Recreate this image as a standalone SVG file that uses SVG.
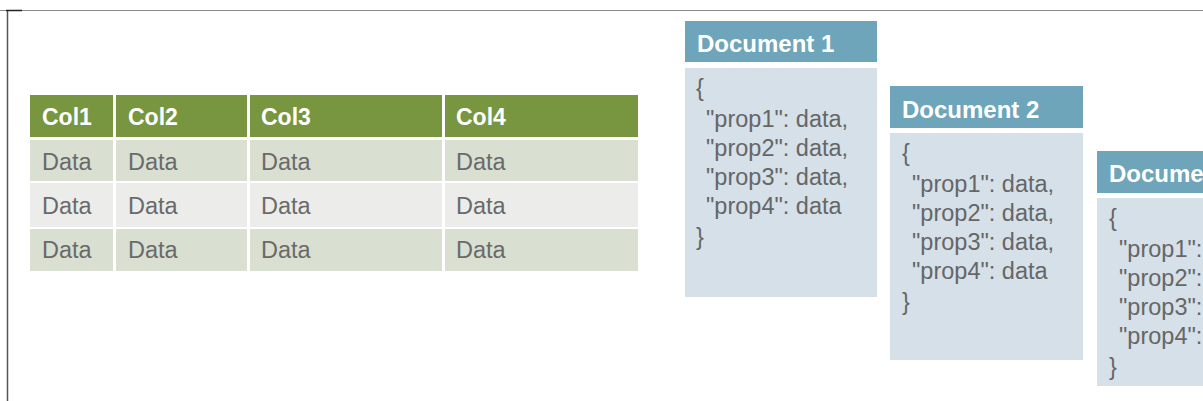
<svg xmlns="http://www.w3.org/2000/svg" width="1203" height="401" viewBox="0 0 1203 401">
<style>
.hdr{fill:#77963f}
.r1{fill:#d9dfd1}
.r2{fill:#ecedea}
.ht{font-family:"Liberation Sans",Arial,sans-serif;font-weight:bold;font-size:23px;fill:#ffffff}
.dt{font-family:"Liberation Sans",Arial,sans-serif;font-size:23.5px;fill:#6a6a6a}
.dh{fill:#6ea5bb}
.db{fill:#d5e0e9}
.dht{font-family:"Liberation Sans",Arial,sans-serif;font-weight:bold;font-size:24px;fill:#ffffff}
.jt{font-family:"Liberation Sans",Arial,sans-serif;font-size:23.5px;fill:#666666}
</style>
<rect x="0" y="0" width="1203" height="401" fill="#ffffff"/>
<g id="frame">
<line x1="0" y1="10.5" x2="1203" y2="10.5" stroke="#8a8a8a" stroke-width="1"/>
<line x1="7.5" y1="10" x2="7.5" y2="401" stroke="#555555" stroke-width="1.5"/>
<line x1="6" y1="10.5" x2="22" y2="10.5" stroke="#222222" stroke-width="1.5"/>
</g>
<g id="table">
<rect class="hdr" x="30" y="95" width="83" height="42"/>
<rect class="hdr" x="116" y="95" width="131" height="42"/>
<rect class="hdr" x="250" y="95" width="192" height="42"/>
<rect class="hdr" x="445" y="95" width="193" height="42"/>
<rect class="r1" x="30" y="140" width="83" height="41"/>
<rect class="r1" x="116" y="140" width="131" height="41"/>
<rect class="r1" x="250" y="140" width="192" height="41"/>
<rect class="r1" x="445" y="140" width="193" height="41"/>
<rect class="r2" x="30" y="183" width="83" height="44"/>
<rect class="r2" x="116" y="183" width="131" height="44"/>
<rect class="r2" x="250" y="183" width="192" height="44"/>
<rect class="r2" x="445" y="183" width="193" height="44"/>
<rect class="r1" x="30" y="229" width="83" height="42"/>
<rect class="r1" x="116" y="229" width="131" height="42"/>
<rect class="r1" x="250" y="229" width="192" height="42"/>
<rect class="r1" x="445" y="229" width="193" height="42"/>
<text class="ht" x="42" y="125">Col1</text>
<text class="ht" x="128" y="125">Col2</text>
<text class="ht" x="261" y="125">Col3</text>
<text class="ht" x="456" y="125">Col4</text>
<text class="dt" x="42" y="170">Data</text>
<text class="dt" x="128" y="170">Data</text>
<text class="dt" x="261" y="170">Data</text>
<text class="dt" x="456" y="170">Data</text>
<text class="dt" x="42" y="214">Data</text>
<text class="dt" x="128" y="214">Data</text>
<text class="dt" x="261" y="214">Data</text>
<text class="dt" x="456" y="214">Data</text>
<text class="dt" x="42" y="258">Data</text>
<text class="dt" x="128" y="258">Data</text>
<text class="dt" x="261" y="258">Data</text>
<text class="dt" x="456" y="258">Data</text>
</g>
<g id="document1">
<rect class="dh" x="685" y="21" width="192" height="41"/>
<rect class="db" x="685" y="68" width="192" height="229"/>
<text class="dht" x="697" y="52">Document 1</text>
<text class="jt" x="696" y="96">{</text>
<text class="jt" x="706" y="127">"prop1": data,</text>
<text class="jt" x="706" y="156">"prop2": data,</text>
<text class="jt" x="706" y="185">"prop3": data,</text>
<text class="jt" x="706" y="214">"prop4": data</text>
<text class="jt" x="696" y="245">}</text>
</g>
<g id="document2">
<rect class="dh" x="890" y="86" width="193" height="42"/>
<rect class="db" x="890" y="133" width="193" height="227"/>
<text class="dht" x="902" y="118">Document 2</text>
<text class="jt" x="902" y="161">{</text>
<text class="jt" x="912" y="192">"prop1": data,</text>
<text class="jt" x="912" y="221">"prop2": data,</text>
<text class="jt" x="912" y="250">"prop3": data,</text>
<text class="jt" x="912" y="279">"prop4": data</text>
<text class="jt" x="902" y="310">}</text>
</g>
<g id="document3">
<rect class="dh" x="1097" y="151" width="193" height="42"/>
<rect class="db" x="1097" y="198" width="193" height="188"/>
<text class="dht" x="1109" y="182">Document 3</text>
<text class="jt" x="1109" y="226">{</text>
<text class="jt" x="1119" y="257">"prop1": data,</text>
<text class="jt" x="1119" y="286">"prop2": data,</text>
<text class="jt" x="1119" y="315">"prop3": data,</text>
<text class="jt" x="1119" y="344">"prop4": data</text>
<text class="jt" x="1109" y="375">}</text>
</g>
</svg>
